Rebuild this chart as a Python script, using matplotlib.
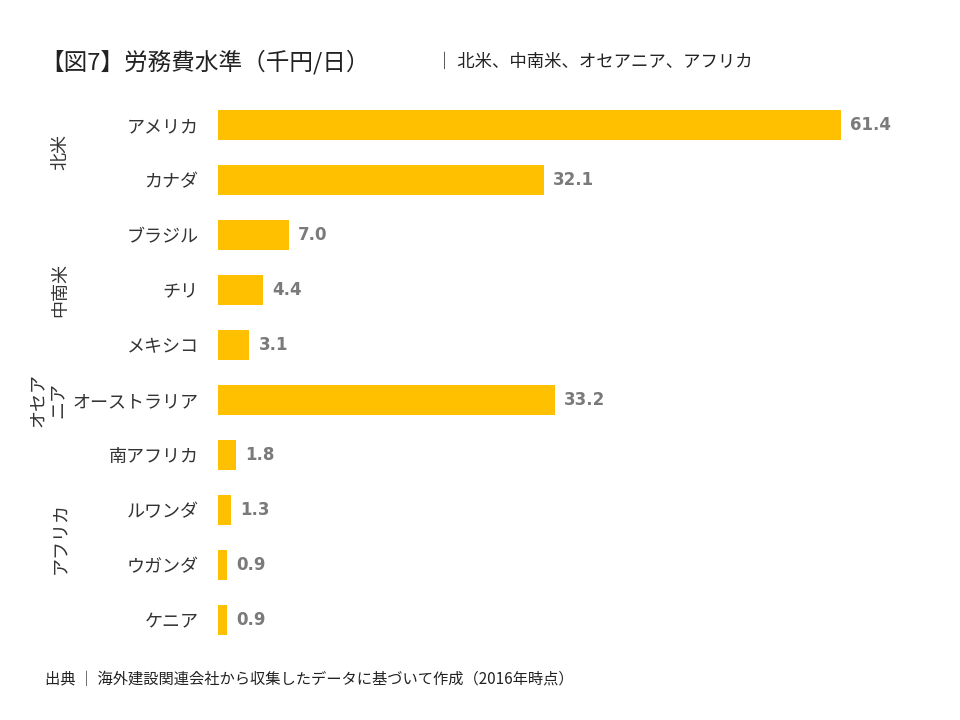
import matplotlib
matplotlib.use("Agg")
import matplotlib.pyplot as plt

categories = ["アメリカ", "カナダ", "ブラジル", "チリ", "メキシコ", "オーストラリア",
              "南アフリカ", "ルワンダ", "ウガンダ", "ケニア"]
values = [61.4, 32.1, 7.0, 4.4, 3.1, 33.2, 1.8, 1.3, 0.9, 0.9]
groups = [("北米", 0.5), ("中南米", 3.0), ("オセア\nニア", 5.0), ("アフリカ", 7.5)]

FONT = "Noto Sans CJK JP"
plt.rcParams["font.family"] = FONT
W, H = 960, 720
fig = plt.figure(figsize=(9.6, 7.2), dpi=100)
ax = fig.add_axes([218 / W, 1 - 647.5 / H, 623 / W, 550 / H])
ys = list(range(len(values)))
ax.barh(ys, values, height=0.55, color="#FFC000")
ax.set_xlim(0, 61.4)
ax.set_ylim(len(values) - 0.5, -0.5)
for s in ax.spines.values():
    s.set_visible(False)
ax.set_xticks([])
ax.set_yticks(ys)
ax.set_yticklabels(categories, fontsize=13, color="#333333")
ax.tick_params(axis="y", length=0, pad=14)
for y, v in zip(ys, values):
    ax.text(v + 0.9, y, f"{v:.1f}", va="center", ha="left", fontsize=12,
            fontweight="bold", color="#7a7a7a", family="DejaVu Sans", clip_on=False)

for label, yv in groups:
    ypix = 97.5 + (yv + 0.5) * 55
    fig.text(60 / W if "\n" not in label else 48 / W, 1 - ypix / H, label,
             rotation=90, ha="center", va="center", fontsize=13, color="#333333",
             linespacing=1.1)

fig.text(40 / W, 1 - 62 / H, "【図7】労務費水準（千円/日）", fontsize=17, color="#222222",
         va="center", ha="left")
fig.text(436 / W, 1 - 62 / H, "｜ 北米、中南米、オセアニア、アフリカ", fontsize=12.5,
         color="#222222", va="center", ha="left")
fig.text(45 / W, 1 - 680 / H,
         "出典 ｜ 海外建設関連会社から収集したデータに基づいて作成（2016年時点）",
         fontsize=11, color="#222222", va="center", ha="left")
fig.savefig("out.png", dpi=100, facecolor="white")
